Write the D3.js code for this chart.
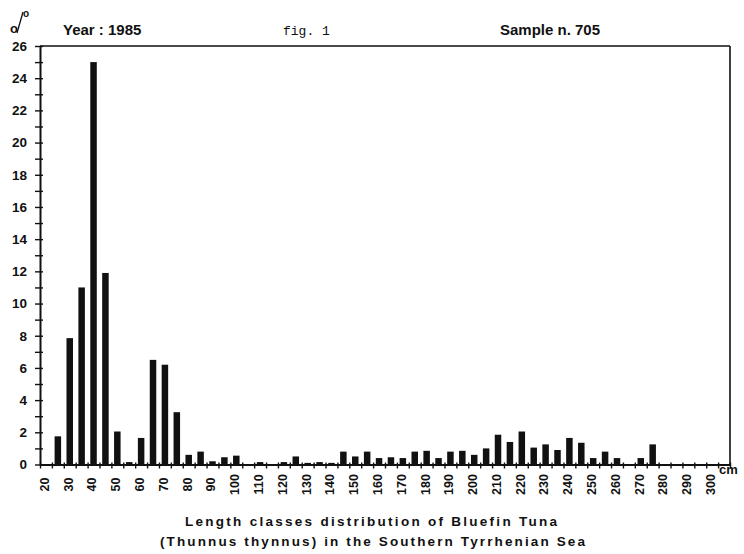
<!DOCTYPE html>
<html>
<head>
<meta charset="utf-8">
<script src="https://cdn.jsdelivr.net/npm/d3@7"></script>
<style>
	body { margin: 0; background: #fff; }
	text { font-family: "Liberation Sans", Arial, sans-serif; fill: #111; }
</style>
</head>
<body>
<svg id="main_svg"></svg>
<script>
const WIDTH = 744;
const HEIGHT = 554;
const BAR_W = 6.5;

// length classes (cm) and percentage of the sample in each
const classes = [20, 25, 30, 35, 40, 45, 50, 55, 60, 65, 70, 75, 80, 85, 90, 95, 100,
	105, 110, 115, 120, 125, 130, 135, 140, 145, 150, 155, 160, 165, 170, 175, 180,
	185, 190, 195, 200, 205, 210, 215, 220, 225, 230, 235, 240, 245, 250, 255, 260,
	265, 270, 275, 280, 285, 290, 295, 300];
const percents = [0, 1.75, 7.85, 11.0, 25.0, 11.9, 2.05, 0.15, 1.65, 6.5, 6.2, 3.25, 0.6, 0.8, 0.2, 0.45, 0.55,
	0, 0.15, 0, 0.15, 0.5, 0.1, 0.15, 0.1, 0.8, 0.5, 0.8, 0.4, 0.45, 0.4, 0.8, 0.85,
	0.4, 0.8, 0.85, 0.6, 1.0, 1.85, 1.4, 2.05, 1.05, 1.25, 0.9, 1.65, 1.35, 0.4, 0.8, 0.4,
	0, 0.4, 1.25, 0, 0, 0, 0, 0];

const xLabels = [20, 30, 40, 50, 60, 70, 80, 90, 100, 110, 120, 130, 140, 150, 160,
	170, 180, 190, 200, 210, 220, 230, 240, 250, 260, 270, 280, 290, 300];
const yLabels = [0, 2, 4, 6, 8, 10, 12, 14, 16, 18, 20, 22, 24, 26];

const yearText = 'Year : 1985';
const figText = 'fig. 1';
const sampleText = 'Sample n. 705';
const captionLines = ['Length classes distribution of Bluefin Tuna',
	'(Thunnus thynnus) in the Southern Tyrrhenian Sea'];

const svg = d3.select('#main_svg').attr('width', WIDTH).attr('height', HEIGHT);

const x = d3.scaleLinear().domain([17.5, 307.5]).range([40, 730]);
const y = d3.scaleLinear().domain([0, 26]).range([464.5, 46]);

// bars
svg.append('g')
	.selectAll('rect')
	.data(classes.map((c, i) => [c, percents[i]]).filter(d => d[1] > 0))
	.enter()
	.append('rect')
	.attr('x', d => x(d[0]) - BAR_W / 2)
	.attr('width', BAR_W)
	.attr('y', d => y(d[1]))
	.attr('height', d => y(0) - y(d[1]))
	.attr('fill', '#111');

// frame (top and right)
svg.append('line')
	.attr('x1', x.range()[0]).attr('x2', x.range()[1])
	.attr('y1', y(26)).attr('y2', y(26))
	.attr('stroke', '#111').attr('stroke-width', 1.6);
svg.append('line')
	.attr('x1', x.range()[1]).attr('x2', x.range()[1])
	.attr('y1', y(26)).attr('y2', y(0))
	.attr('stroke', '#111').attr('stroke-width', 1.6);

// y axis, a tick every unit, labels on even values
const yAxis = svg.append('g')
	.attr('transform', `translate(${x.range()[0]},0)`)
	.call(d3.axisLeft(y)
		.tickValues(d3.range(0, 27))
		.tickSize(5)
		.tickSizeOuter(0)
		.tickFormat(d => yLabels.includes(d) ? d : ''));
yAxis.select('.domain').attr('stroke', '#111').attr('stroke-width', 2);
yAxis.selectAll('.tick line').attr('x1', 3).attr('stroke', '#111').attr('stroke-width', 1.4);
yAxis.selectAll('.tick text')
	.attr('x', -13)
	.style('font-size', '13.5px')
	.style('font-weight', 'bold');

// x axis, ticks on class boundaries
const xAxis = svg.append('g')
	.attr('transform', `translate(0,${y(0)})`)
	.call(d3.axisBottom(x)
		.tickValues(classes.map(c => c - 2.5).concat([302.5, 307.5]))
		.tickSize(4)
		.tickSizeOuter(0)
		.tickFormat(''));
xAxis.select('.domain').attr('stroke', '#111').attr('stroke-width', 2);
xAxis.selectAll('.tick line').attr('y1', -2).attr('stroke', '#111').attr('stroke-width', 1.4);

// x labels, rotated
const xLab = svg.append('g')
	.attr('transform', `translate(0,${y(0)})`)
	.call(d3.axisBottom(x).tickValues(xLabels).tickSize(0));
xLab.select('.domain').remove();
xLab.selectAll('.tick text')
	.attr('x', 0)
	.attr('y', 0)
	.attr('dy', '0.35em')
	.attr('text-anchor', 'middle')
	.attr('transform', 'translate(-2,20) rotate(-90)')
	.style('font-size', '12.5px')
	.style('font-weight', 'bold');

svg.append('text')
	.attr('x', 719).attr('y', 474)
	.style('font-size', '13px').style('font-weight', 'bold')
	.text('cm');

// header: the "o/o" unit mark, slash drawn as a stroke
const unit = svg.append('g');
unit.append('text').attr('x', 10).attr('y', 33).style('font-size', '13px').style('font-weight', 'bold').text('o');
unit.append('line')
	.attr('x1', 17).attr('y1', 33).attr('x2', 23).attr('y2', 12)
	.attr('stroke', '#111').attr('stroke-width', 1.3);
unit.append('text').attr('x', 23).attr('y', 17).style('font-size', '10px').style('font-weight', 'bold').text('o');

svg.append('text')
	.attr('x', 63).attr('y', 35)
	.style('font-size', '15px').style('font-weight', 'bold')
	.text(yearText);
svg.append('text')
	.attr('x', 283).attr('y', 35)
	.style('font-family', '"Liberation Mono", monospace')
	.style('font-size', '13px')
	.text(figText);
svg.append('text')
	.attr('x', 500).attr('y', 35)
	.style('font-size', '15px').style('font-weight', 'bold')
	.text(sampleText);

// caption
svg.append('text')
	.attr('x', 185).attr('y', 526)
	.attr('textLength', 372).attr('lengthAdjust', 'spacing')
	.style('font-size', '13.5px').style('font-weight', 'bold')
	.text(captionLines[0]);
svg.append('text')
	.attr('x', 160).attr('y', 546)
	.attr('textLength', 425).attr('lengthAdjust', 'spacing')
	.style('font-size', '13.5px').style('font-weight', 'bold')
	.text(captionLines[1]);
</script>
</body>
</html>
